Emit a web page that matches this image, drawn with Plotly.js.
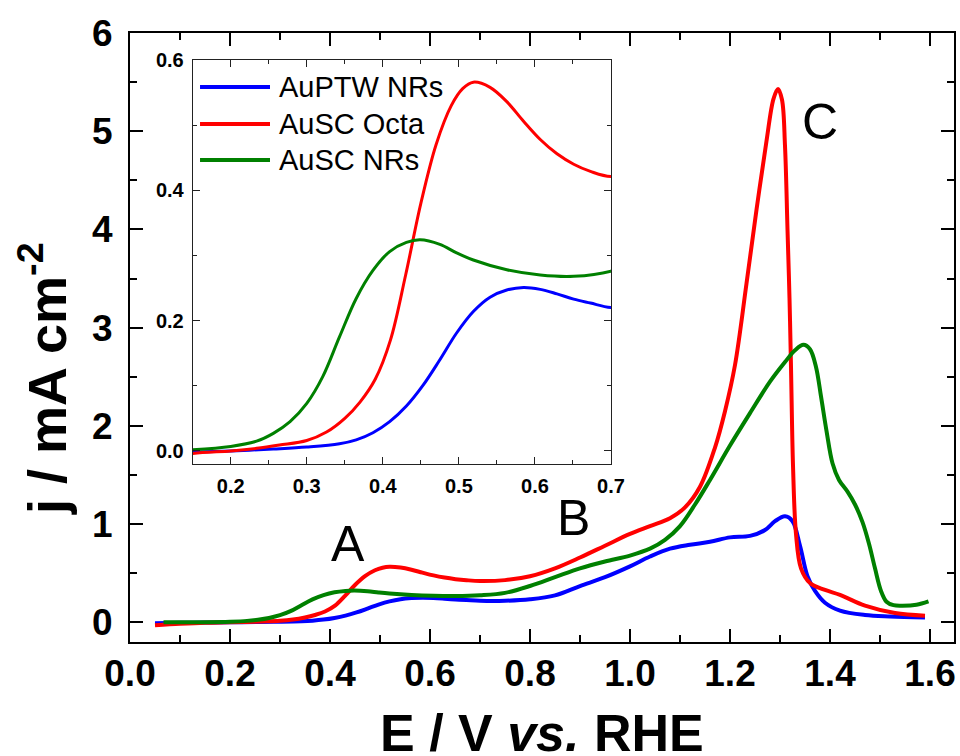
<!DOCTYPE html>
<html>
<head>
<meta charset="utf-8">
<script src="https://cdn.plot.ly/plotly-3.0.1.min.js"></script>
<style>html,body{margin:0;padding:0;background:#fff;}#chart{width:960px;height:756px;}</style>
</head>
<body>
<div id="chart"></div>
<script>
// ---- data ----
const seriesNames = ["AuPTW NRs", "AuSC Octa", "AuSC NRs"];
const seriesColors = ["#0000FF", "#FF0000", "#008000"];

const ePTW = [0.05,0.10,0.15,0.20,0.256,0.30,0.343,0.365,0.387,0.409,0.431,0.453,0.475,0.497,0.519,0.541,0.563,0.585,0.607,0.629,0.651,0.673,0.70,0.75,0.80,0.85,0.90,0.95,1.00,1.04,1.08,1.12,1.16,1.20,1.24,1.27,1.29,1.31,1.325,1.34,1.355,1.37,1.39,1.42,1.47,1.52,1.59];
const jPTW = [-0.008,-0.005,-0.002,0.0,0.003,0.006,0.011,0.017,0.028,0.045,0.069,0.101,0.140,0.181,0.214,0.236,0.247,0.251,0.248,0.241,0.233,0.227,0.220,0.220,0.235,0.275,0.37,0.46,0.57,0.67,0.75,0.79,0.82,0.865,0.88,0.94,1.03,1.08,1.03,0.78,0.47,0.32,0.20,0.12,0.075,0.06,0.05];

const eOcta = [0.05,0.10,0.15,0.20,0.234,0.264,0.30,0.326,0.35,0.37,0.39,0.41,0.43,0.45,0.47,0.49,0.505,0.519,0.541,0.563,0.585,0.607,0.629,0.651,0.673,0.70,0.75,0.80,0.85,0.90,0.95,1.00,1.04,1.08,1.11,1.14,1.17,1.19,1.21,1.233,1.253,1.273,1.287,1.296,1.304,1.31,1.315,1.319,1.322,1.326,1.332,1.342,1.36,1.39,1.42,1.47,1.53,1.59];
const jOcta = [-0.03,-0.015,-0.004,0.0,0.004,0.009,0.016,0.029,0.05,0.075,0.11,0.17,0.27,0.38,0.47,0.53,0.556,0.566,0.558,0.536,0.506,0.478,0.456,0.440,0.429,0.421,0.43,0.47,0.55,0.66,0.78,0.9,0.98,1.06,1.17,1.38,1.78,2.15,2.62,3.45,4.2,4.9,5.33,5.43,5.32,4.85,4.0,3.3,2.6,1.6,0.9,0.55,0.4,0.33,0.28,0.17,0.095,0.068];

const eNRs = [0.067,0.10,0.15,0.20,0.234,0.256,0.278,0.30,0.321,0.343,0.365,0.387,0.409,0.431,0.449,0.475,0.497,0.519,0.563,0.607,0.651,0.70,0.75,0.80,0.85,0.90,0.95,1.00,1.04,1.07,1.10,1.13,1.16,1.20,1.24,1.28,1.31,1.33,1.347,1.36,1.372,1.382,1.393,1.405,1.418,1.435,1.45,1.465,1.478,1.49,1.502,1.513,1.527,1.545,1.573,1.597];
const jNRs = [0.0,0.0,0.002,0.007,0.015,0.027,0.045,0.073,0.114,0.175,0.234,0.277,0.306,0.320,0.324,0.317,0.304,0.293,0.278,0.27,0.268,0.276,0.30,0.37,0.46,0.55,0.62,0.68,0.75,0.84,0.98,1.2,1.45,1.8,2.13,2.45,2.65,2.77,2.825,2.78,2.6,2.3,1.95,1.62,1.45,1.33,1.2,1.02,0.8,0.55,0.32,0.21,0.175,0.17,0.18,0.214];

const peakLabels = ["A", "B", "C"];
const peakE = [0.436, 0.886, 1.38];
const peakJ = [0.80, 1.065, 5.09];

const xTickVals = [0.0,0.2,0.4,0.6,0.8,1.0,1.2,1.4,1.6];

// ---- build ----
const E = [ePTW, eOcta, eNRs];
const J = [jPTW, jOcta, jNRs];
const traces = [];
for (let i = 0; i < 3; i++) {
  traces.push({x: E[i], y: J[i], type: 'scatter', mode: 'lines', name: seriesNames[i],
    line: {color: seriesColors[i], width: 4, shape: 'spline', smoothing: 1, simplify: false},
    xaxis: 'x', yaxis: 'y', showlegend: false});
}
for (let i = 0; i < 3; i++) {
  traces.push({x: E[i], y: J[i], type: 'scatter', mode: 'lines', name: seriesNames[i],
    line: {color: seriesColors[i], width: 3, shape: 'spline', smoothing: 1, simplify: false},
    xaxis: 'x2', yaxis: 'y2', showlegend: false});
}

const FONT = 'Arial, "Liberation Sans", sans-serif';
const mainAxis = {
  showline: true, linewidth: 2, linecolor: '#000', mirror: 'allticks',
  ticks: 'inside', ticklen: 13, tickwidth: 2, tickcolor: '#000',
  showgrid: false, zeroline: false,
  tickfont: {family: FONT, size: 37, color: '#000', weight: 'bold'}
};
const insetAxis = {
  showline: true, linewidth: 1, linecolor: '#222', mirror: 'allticks',
  ticks: 'inside', ticklen: 7, tickwidth: 1, tickcolor: '#222',
  showgrid: false, zeroline: false,
  tickfont: {family: FONT, size: 20, color: '#000', weight: 'bold'}
};

const shapes = [];
const annotations = [];
const legY = [0.9332, 0.8416, 0.7525];
for (let i = 0; i < 3; i++) {
  shapes.push({type: 'line', xref: 'x2 domain', yref: 'y2 domain', x0: 0.0175, x1: 0.1848, y0: legY[i], y1: legY[i],
    line: {color: seriesColors[i], width: 4}});
  annotations.push({xref: 'x2 domain', yref: 'y2 domain', x: 0.2017, y: legY[i], xanchor: 'left', yanchor: 'middle',
    text: seriesNames[i], showarrow: false, font: {family: FONT, size: 29, color: '#000'}});
}
for (let i = 0; i < 3; i++) {
  annotations.push({xref: 'x', yref: 'y', x: peakE[i], y: peakJ[i], xanchor: 'center', yanchor: 'middle',
    text: peakLabels[i], showarrow: false, font: {family: FONT, size: 50, color: '#000'}});
}
// axis titles
annotations.push({xref: 'paper', yref: 'paper', x: -0.1056, y: 0.4335, xanchor: 'center', yanchor: 'middle',
  textangle: -90, text: 'j / mA cm<sup>-2</sup>', showarrow: false,
  font: {family: FONT, size: 54, color: '#000', weight: 'bold'}});
annotations.push({xref: 'paper', yref: 'paper', x: 0.5, y: -0.1494, xanchor: 'center', yanchor: 'middle',
  text: 'E / V <i>vs.</i> RHE', showarrow: false,
  font: {family: FONT, size: 52, color: '#000', weight: 'bold'}});

const layout = {
  width: 960, height: 756,
  margin: {l: 130, r: 6, t: 33, b: 114, pad: 0},
  paper_bgcolor: '#fff', plot_bgcolor: '#fff',
  showlegend: false,
  xaxis: Object.assign({}, mainAxis, {
    range: [0, 1.648], tickvals: xTickVals, tickformat: '.1f', ticklabelstandoff: -2,
    minor: {ticks: 'inside', dtick: 0.1, tick0: 0, ticklen: 7, tickwidth: 2, tickcolor: '#000'}
  }),
  yaxis: Object.assign({}, mainAxis, {
    range: [-0.2, 6.0], dtick: 1, tick0: 0, ticklabelstandoff: 8,
    minor: {ticks: 'inside', dtick: 0.5, tick0: 0, ticklen: 7, tickwidth: 2, tickcolor: '#000'}
  }),
  xaxis2: Object.assign({}, insetAxis, {
    domain: [0.0761, 0.5837], anchor: 'y2', range: [0.15, 0.7], dtick: 0.1, tick0: 0, tickformat: '.1f', ticklabelstandoff: 4,
    minor: {ticks: 'inside', dtick: 0.05, tick0: 0, ticklen: 4, tickwidth: 1, tickcolor: '#222'}
  }),
  yaxis2: Object.assign({}, insetAxis, {
    domain: [0.2923, 0.9557], anchor: 'x2', range: [-0.02, 0.6], dtick: 0.2, tick0: 0, tickformat: '.1f', ticklabelstandoff: 4,
    minor: {ticks: 'inside', dtick: 0.1, tick0: 0, ticklen: 4, tickwidth: 1, tickcolor: '#222'}
  }),
  shapes: shapes,
  annotations: annotations
};

Plotly.newPlot('chart', traces, layout, {displayModeBar: false, staticPlot: true});
</script>
</body>
</html>
